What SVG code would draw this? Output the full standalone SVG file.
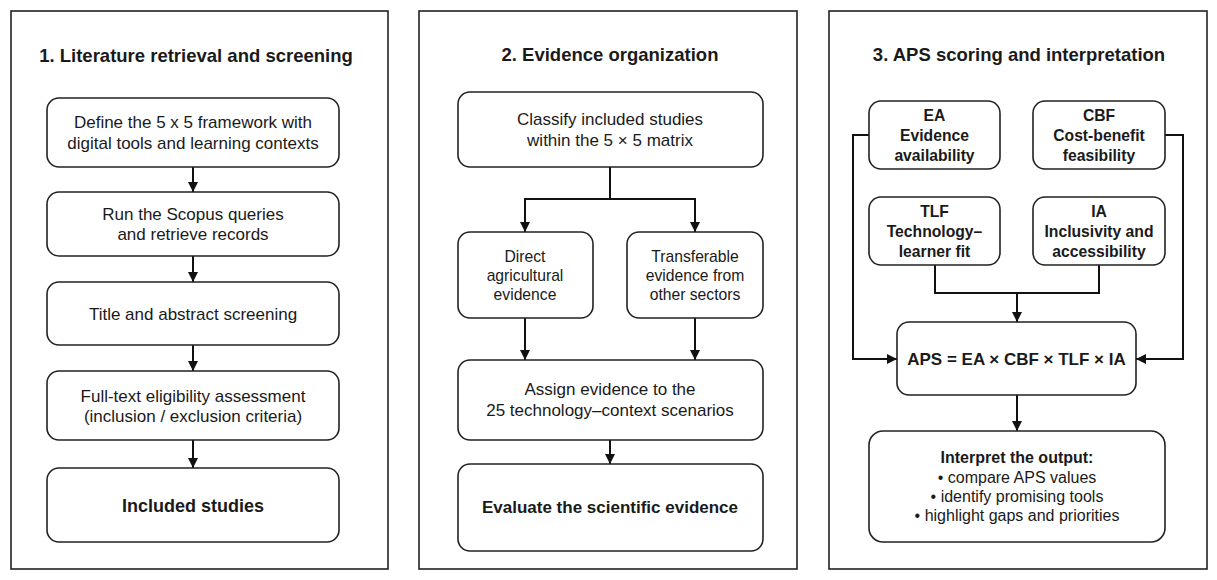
<svg xmlns="http://www.w3.org/2000/svg" width="1217" height="580" viewBox="0 0 1217 580">
<style>
.panel{fill:#fff;stroke:#222;stroke-width:1.6}
.box{fill:#fff;stroke:#222;stroke-width:1.6}
.t{font-family:"Liberation Sans",Arial,sans-serif;fill:#1a1a1a;text-anchor:middle}
.title{font-size:18.5px;font-weight:bold}
.n{font-size:17px}
.s{font-size:15.7px}
.sb{font-size:15.7px;font-weight:bold}
.b{font-size:17px;font-weight:bold}
.i{font-size:16px}
.c{fill:none;stroke:#111;stroke-width:2}
</style>
<defs>
<marker id="ah" markerUnits="userSpaceOnUse" markerWidth="10" markerHeight="10" refX="10" refY="5" orient="auto">
<path d="M0,0 L10,5 L0,10 z" fill="#111"/>
</marker>
</defs>
<rect width="1217" height="580" fill="#fff"/>

<g id="panel1">
<rect class="panel" x="11" y="11" width="377" height="558"/>
<text class="t title" x="196" y="62">1. Literature retrieval and screening</text>
</g>
<g id="panel2">
<rect class="panel" x="419" y="11" width="378" height="558"/>
<text class="t title" x="610" y="61">2. Evidence organization</text>
</g>
<g id="panel3">
<rect class="panel" x="829" y="11" width="378" height="558"/>
<text class="t title" x="1019" y="61">3. APS scoring and interpretation</text>
</g>

<g id="connectors">
<path class="c" d="M193,167 V192" marker-end="url(#ah)"/>
<path class="c" d="M193,256 V282" marker-end="url(#ah)"/>
<path class="c" d="M193,345 V371" marker-end="url(#ah)"/>
<path class="c" d="M193,440 V468" marker-end="url(#ah)"/>
<path class="c" d="M610,167 V199"/>
<path class="c" d="M525,232 V199 H695 V232" marker-end="url(#ah)"/>
<path class="c" d="M525,199 V232" marker-end="url(#ah)"/>
<path class="c" d="M525,298 V360" marker-end="url(#ah)"/>
<path class="c" d="M695,298 V360" marker-end="url(#ah)"/>
<path class="c" d="M610,440 V464" marker-end="url(#ah)"/>
<path class="c" d="M869,135 H853 V359 H897" marker-end="url(#ah)"/>
<path class="c" d="M1165,135 H1183 V359 H1136" marker-end="url(#ah)"/>
<path class="c" d="M935,265 V293 H1099 V265"/>
<path class="c" d="M1017,293 V322" marker-end="url(#ah)"/>
<path class="c" d="M1017,395 V431" marker-end="url(#ah)"/>
</g>

<g id="n-define">
<rect class="box" x="47" y="98" width="292" height="69" rx="12"/>
<text class="t n" x="193" y="128">Define the 5 x 5 framework with</text>
<text class="t n" x="193" y="149">digital tools and learning contexts</text>
</g>
<g id="n-run">
<rect class="box" x="47" y="192" width="292" height="64" rx="12"/>
<text class="t n" x="193" y="220">Run the Scopus queries</text>
<text class="t n" x="193" y="240">and retrieve records</text>
</g>
<g id="n-title">
<rect class="box" x="47" y="282" width="292" height="63" rx="12"/>
<text class="t n" x="193" y="320">Title and abstract screening</text>
</g>
<g id="n-fulltext">
<rect class="box" x="47" y="371" width="292" height="69" rx="12"/>
<text class="t n" x="193" y="402">Full-text eligibility assessment</text>
<text class="t n" x="193" y="422">(inclusion / exclusion criteria)</text>
</g>
<g id="n-included">
<rect class="box" x="47" y="468" width="292" height="74" rx="12"/>
<text class="t b" x="193" y="512" style="font-size:18px">Included studies</text>
</g>

<g id="n-classify">
<rect class="box" x="458" y="92" width="305" height="75" rx="12"/>
<text class="t n" x="610" y="125">Classify included studies</text>
<text class="t n" x="610" y="146">within the 5 × 5 matrix</text>
</g>
<g id="n-direct">
<rect class="box" x="458" y="232" width="135" height="86" rx="12"/>
<text class="t s" x="525" y="262">Direct</text>
<text class="t s" x="525" y="281">agricultural</text>
<text class="t s" x="525" y="300">evidence</text>
</g>
<g id="n-transfer">
<rect class="box" x="627" y="232" width="136" height="86" rx="12"/>
<text class="t s" x="695" y="262">Transferable</text>
<text class="t s" x="695" y="281">evidence from</text>
<text class="t s" x="695" y="300">other sectors</text>
</g>
<g id="n-assign">
<rect class="box" x="458" y="360" width="305" height="80" rx="12"/>
<text class="t n" x="610" y="395">Assign evidence to the</text>
<text class="t n" x="610" y="416">25 technology–context scenarios</text>
</g>
<g id="n-evaluate">
<rect class="box" x="458" y="464" width="305" height="87" rx="12"/>
<text class="t b" x="610" y="513">Evaluate the scientific evidence</text>
</g>

<g id="n-ea">
<rect class="box" x="869" y="101" width="131" height="68" rx="12"/>
<text class="t sb" x="934.5" y="121">EA</text>
<text class="t sb" x="934.5" y="141">Evidence</text>
<text class="t sb" x="934.5" y="161">availability</text>
</g>
<g id="n-cbf">
<rect class="box" x="1033" y="101" width="132" height="68" rx="12"/>
<text class="t sb" x="1099" y="121">CBF</text>
<text class="t sb" x="1099" y="141">Cost-benefit</text>
<text class="t sb" x="1099" y="161">feasibility</text>
</g>
<g id="n-tlf">
<rect class="box" x="869" y="197" width="131" height="68" rx="12"/>
<text class="t sb" x="934.5" y="217">TLF</text>
<text class="t sb" x="934.5" y="237">Technology–</text>
<text class="t sb" x="934.5" y="257">learner fit</text>
</g>
<g id="n-ia">
<rect class="box" x="1033" y="197" width="132" height="68" rx="12"/>
<text class="t sb" x="1099" y="217">IA</text>
<text class="t sb" x="1099" y="237">Inclusivity and</text>
<text class="t sb" x="1099" y="257">accessibility</text>
</g>
<g id="n-aps">
<rect class="box" x="897" y="322" width="239" height="73" rx="12"/>
<text class="t b" x="1016.5" y="365">APS = EA × CBF × TLF × IA</text>
</g>
<g id="n-interpret">
<rect class="box" x="869" y="431" width="296" height="111" rx="14"/>
<text class="t i" x="1017" y="463" font-weight="bold">Interpret the output:</text>
<text class="t i" x="1017" y="483">• compare APS values</text>
<text class="t i" x="1017" y="502">• identify promising tools</text>
<text class="t i" x="1017" y="521">• highlight gaps and priorities</text>
</g>
</svg>
